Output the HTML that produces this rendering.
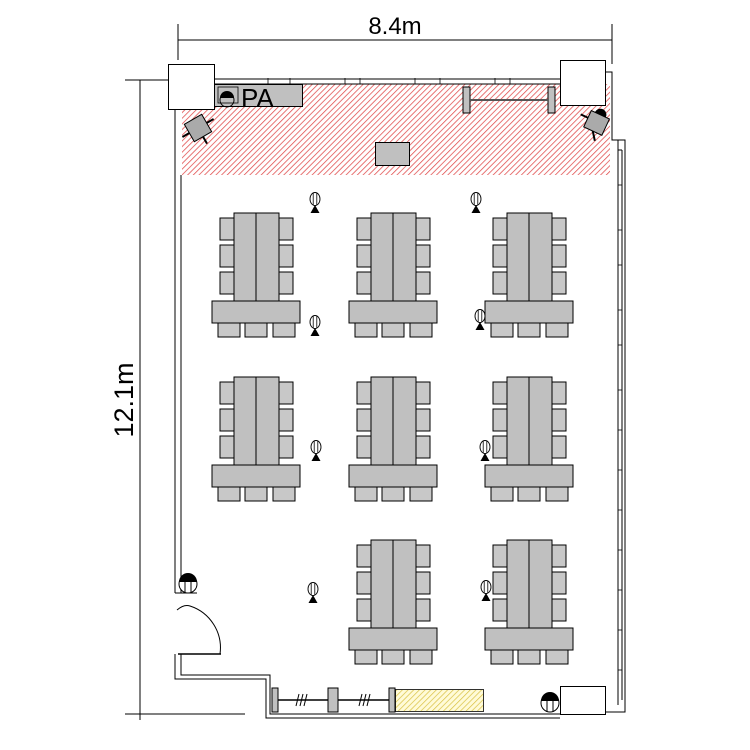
<!DOCTYPE html>
<html><head><meta charset="utf-8"><style>html,body{margin:0;padding:0;background:#fff}svg{display:block}</style></head>
<body>
<svg width="750" height="750" viewBox="0 0 750 750" xmlns="http://www.w3.org/2000/svg" font-family="Liberation Sans, sans-serif">
<defs>
<pattern id="rh" patternUnits="userSpaceOnUse" width="4" height="4" patternTransform="rotate(45)"><line x1="0" y1="0" x2="0" y2="4" stroke="#e04848" stroke-width="1.5"/></pattern>
<pattern id="yh" patternUnits="userSpaceOnUse" width="4" height="4" patternTransform="rotate(45)"><line x1="0" y1="0" x2="0" y2="4" stroke="#d8c040" stroke-width="1.4"/></pattern>
<g id="mic"><ellipse cx="0" cy="0" rx="5" ry="6.5" fill="#fff" stroke="#000" stroke-width="0.9"/><line x1="-1.8" y1="-6" x2="-1.8" y2="6" stroke="#000" stroke-width="0.8"/><line x1="1.8" y1="-6" x2="1.8" y2="6" stroke="#000" stroke-width="0.8"/><polygon points="0,6 -4.5,14 4.5,14" fill="#000"/></g>
<g id="grp" stroke="#000" stroke-width="1">
<rect x="20" y="5" width="14" height="22" fill="#c8c8c8"/><rect x="20" y="32" width="14" height="22" fill="#c8c8c8"/><rect x="20" y="59" width="14" height="22" fill="#c8c8c8"/>
<rect x="79" y="5" width="14" height="22" fill="#c8c8c8"/><rect x="79" y="32" width="14" height="22" fill="#c8c8c8"/><rect x="79" y="59" width="14" height="22" fill="#c8c8c8"/>
<rect x="34" y="0" width="22" height="88" fill="#c0c0c0"/><rect x="56" y="0" width="23" height="88" fill="#c0c0c0"/>
<rect x="12" y="88" width="88" height="22" fill="#c0c0c0"/>
<rect x="18" y="110" width="22" height="14" fill="#c8c8c8"/><rect x="45" y="110" width="22" height="14" fill="#c8c8c8"/><rect x="73" y="110" width="22" height="14" fill="#c8c8c8"/>
</g>
</defs>
<g stroke="#000" stroke-width="1" fill="none">
<line x1="178" y1="40" x2="612" y2="40"/><line x1="178" y1="24" x2="178" y2="60"/><line x1="612" y1="24" x2="612" y2="64"/>
<line x1="140" y1="80" x2="140" y2="720"/><line x1="125" y1="80" x2="168" y2="80"/><line x1="125" y1="714" x2="245" y2="714"/>
</g>
<text x="395" y="34" font-size="24" text-anchor="middle">8.4m</text>
<text transform="translate(133,400) rotate(-90)" font-size="27" text-anchor="middle">12.1m</text>
<rect x="182" y="84" width="428" height="91" fill="url(#rh)"/>
<g stroke="#000" stroke-width="1" fill="none">
<line x1="210" y1="79" x2="560" y2="79"/><line x1="210" y1="84" x2="560" y2="84"/>
<polyline points="175,110 175,593"/><polyline points="181,175 181,593"/>
<polyline points="175,654 175,679 266,679 266,718 560,718"/>
<polyline points="181,654 181,675 270,675 270,714 560,714"/>
<polyline points="605,60 605,72 612,72 612,140 618,140 618,705"/>
<polyline points="612,140 625,140 625,712 605,712"/>
<line x1="618" y1="150" x2="622" y2="150"/>
<line x1="622" y1="150" x2="622" y2="700"/>
</g>
<g stroke="#000" stroke-width="0.8">
<line x1="618" y1="185" x2="622" y2="185"/><line x1="618" y1="230" x2="622" y2="230"/><line x1="618" y1="265" x2="622" y2="265"/><line x1="618" y1="310" x2="622" y2="310"/><line x1="618" y1="345" x2="622" y2="345"/><line x1="618" y1="390" x2="622" y2="390"/><line x1="618" y1="430" x2="622" y2="430"/><line x1="618" y1="470" x2="622" y2="470"/><line x1="618" y1="510" x2="622" y2="510"/><line x1="618" y1="550" x2="622" y2="550"/><line x1="618" y1="590" x2="622" y2="590"/><line x1="618" y1="630" x2="622" y2="630"/><line x1="618" y1="670" x2="622" y2="670"/>
<line x1="268" y1="78" x2="268" y2="84"/><line x1="290" y1="78" x2="290" y2="84"/><line x1="345" y1="78" x2="345" y2="84"/><line x1="360" y1="78" x2="360" y2="84"/><line x1="415" y1="78" x2="415" y2="84"/><line x1="440" y1="78" x2="440" y2="84"/><line x1="495" y1="78" x2="495" y2="84"/><line x1="510" y1="78" x2="510" y2="84"/>
</g>
<rect x="168.5" y="64.5" width="46" height="45" fill="#fff" stroke="#000"/>
<rect x="560.5" y="60.5" width="45" height="45" fill="#fff" stroke="#000"/>
<rect x="560.5" y="686.5" width="45" height="28" fill="#fff" stroke="#000"/>
<rect x="214.5" y="84.5" width="88" height="22" fill="#c0c0c0" stroke="#000"/>
<rect x="218" y="87" width="20" height="16" fill="none" stroke="#000" stroke-width="0.8"/>
<text x="241" y="107" font-size="26">PA</text>
<circle cx="227" cy="100" r="7" fill="none" stroke="#000"/><path d="M220,98 A7,7 0 0 1 234,98 Z" fill="#000"/>
<rect x="463" y="87" width="7" height="26" fill="#c0c0c0" stroke="#000"/><rect x="548" y="87" width="7" height="26" fill="#c0c0c0" stroke="#000"/>
<line x1="470" y1="100" x2="548" y2="100" stroke="#555" stroke-width="2"/>
<rect x="375.5" y="142.5" width="34" height="23" fill="#c0c0c0" stroke="#000"/>
<g transform="translate(198,128) rotate(-30)"><rect x="-10" y="-10" width="20" height="20" fill="#aaa" stroke="#000"/><line x1="-18" y1="0" x2="-10" y2="0" stroke="#000" stroke-width="2"/><line x1="10" y1="0" x2="18" y2="0" stroke="#000" stroke-width="2"/><line x1="0" y1="10" x2="0" y2="18" stroke="#000" stroke-width="2"/></g>
<g transform="translate(597,122) rotate(25)"><rect x="-10" y="-8" width="20" height="18" fill="#aaa" stroke="#000"/><line x1="-18" y1="0" x2="-10" y2="0" stroke="#000" stroke-width="2"/><line x1="0" y1="10" x2="6" y2="18" stroke="#000" stroke-width="2"/><path d="M-6,-8 A6,6 0 0 1 6,-8 Z" fill="#000"/></g>
<use href="#grp" x="200" y="213"/><use href="#grp" x="337" y="213"/><use href="#grp" x="473" y="213"/>
<use href="#grp" x="200" y="377"/><use href="#grp" x="337" y="377"/><use href="#grp" x="473" y="377"/>
<use href="#grp" x="337" y="540"/><use href="#grp" x="473" y="540"/>
<use href="#mic" x="315" y="199"/><use href="#mic" x="476" y="199"/><use href="#mic" x="315" y="322"/><use href="#mic" x="480" y="316"/>
<use href="#mic" x="316" y="447"/><use href="#mic" x="485" y="447"/><use href="#mic" x="313" y="589"/><use href="#mic" x="486" y="587"/>
<line x1="178" y1="654" x2="221" y2="654" stroke="#000" stroke-width="1.5"/>
<path d="M177,610 Q184,604 190,606 A44,44 0 0 1 220,654" fill="none" stroke="#000"/>
<g><circle cx="188" cy="584" r="9" fill="#fff" stroke="#000"/><path d="M179,582 A9,9 0 0 1 197,582 Z" fill="#000"/><line x1="185" y1="582" x2="185" y2="593" stroke="#000"/><line x1="191" y1="582" x2="191" y2="593" stroke="#000"/><line x1="175" y1="593" x2="197" y2="593" stroke="#000"/></g>
<g><circle cx="550" cy="703" r="9" fill="#fff" stroke="#000"/><path d="M541,701 A9,9 0 0 1 559,701 Z" fill="#000"/><line x1="547" y1="701" x2="547" y2="712" stroke="#000"/><line x1="553" y1="701" x2="553" y2="712" stroke="#000"/></g>
<g stroke="#000">
<rect x="272" y="688" width="6" height="24" fill="#c0c0c0"/><rect x="328" y="688" width="10" height="24" fill="#c0c0c0"/><rect x="389" y="688" width="6" height="24" fill="#c0c0c0"/>
<line x1="278" y1="700" x2="328" y2="700" stroke-width="1.5"/><line x1="338" y1="700" x2="389" y2="700" stroke-width="1.5"/>
<path d="M296,706 L299,694 M300,706 L303,694 M304,706 L307,694 M359,706 L362,694 M363,706 L366,694 M367,706 L370,694" fill="none"/>
</g>
<rect x="395.5" y="689.5" width="88" height="22" fill="#fffbd8" stroke="#000" stroke-width="0.8"/>
<rect x="396" y="690" width="87" height="21" fill="url(#yh)"/>
</svg>
</body></html>
